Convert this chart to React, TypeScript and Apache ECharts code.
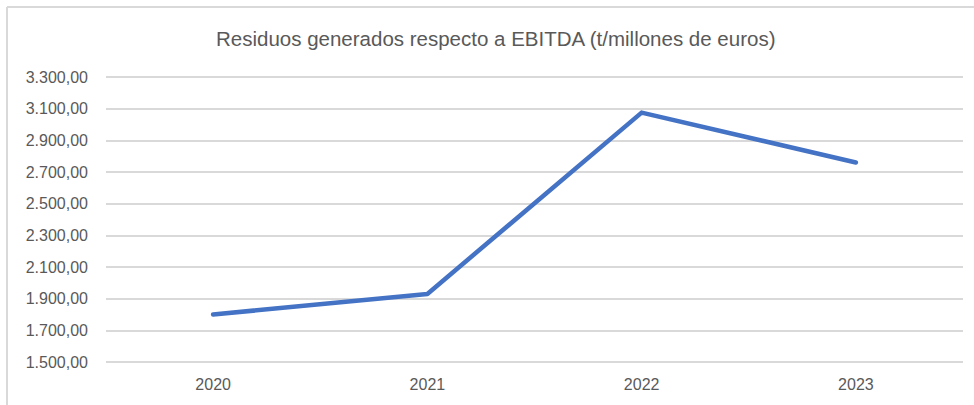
import React, { useEffect, useRef } from "react";
import * as echarts from "echarts";

const title = "Residuos generados respecto a EBITDA (t/millones de euros)";
const categories = ["2020", "2021", "2022", "2023"];
const values = [1800, 1930, 3075, 2760];
const yMin = 1500;
const yMax = 3300;
const yStep = 200;

function fmt(v: number): string {
  const fixed = v.toFixed(2);
  const [intPart, dec] = fixed.split(".");
  const withSep = intPart.replace(/\B(?=(\d{3})+(?!\d))/g, ".");
  return withSep + "," + dec;
}

export default function App() {
  const ref = useRef<HTMLDivElement>(null);
  useEffect(() => {
    if (!ref.current) return;
    const chart = echarts.init(ref.current, undefined, { renderer: "svg" });
    const font = "'Liberation Sans', Arial, sans-serif";
    chart.setOption({
      animation: false,
      backgroundColor: "#ffffff",
      title: {
        text: title,
        left: 216,
        top: 28,
        padding: 0,
        textStyle: { color: "#595959", fontSize: 20.5, fontWeight: "normal", fontFamily: font },
      },
      graphic: [
        { type: "line", shape: { x1: 7, y1: 7, x2: 974, y2: 7 }, style: { stroke: "#d9d9d9", lineWidth: 2 } },
        { type: "line", shape: { x1: 7, y1: 7, x2: 7, y2: 405 }, style: { stroke: "#d9d9d9", lineWidth: 2 } },
      ],
      grid: { left: 106, right: 11, top: 77, bottom: 43, containLabel: false },
      xAxis: {
        type: "category",
        data: categories,
        boundaryGap: true,
        axisLine: { show: false },
        axisTick: { show: false },
        axisLabel: { color: "#595959", fontSize: 16, fontFamily: font, margin: 14 },
      },
      yAxis: {
        type: "value",
        min: yMin,
        max: yMax,
        interval: yStep,
        axisLine: { show: false },
        axisTick: { show: false },
        axisLabel: { color: "#595959", fontSize: 16, fontFamily: font, margin: 18, formatter: (v: number) => fmt(v) },
        splitLine: { lineStyle: { color: "#d9d9d9", width: 2 } },
      },
      series: [
        {
          type: "line",
          data: values,
          symbol: "none",
          lineStyle: { color: "#4472C4", width: 4.5, cap: "round", join: "round" },
        },
      ],
    });
    return () => chart.dispose();
  }, []);
  return (
    <div style={{ position: "absolute", left: 0, top: 0, width: 974, height: 405 }}>
      <div ref={ref} style={{ width: 974, height: 405 }} />
    </div>
  );
}
